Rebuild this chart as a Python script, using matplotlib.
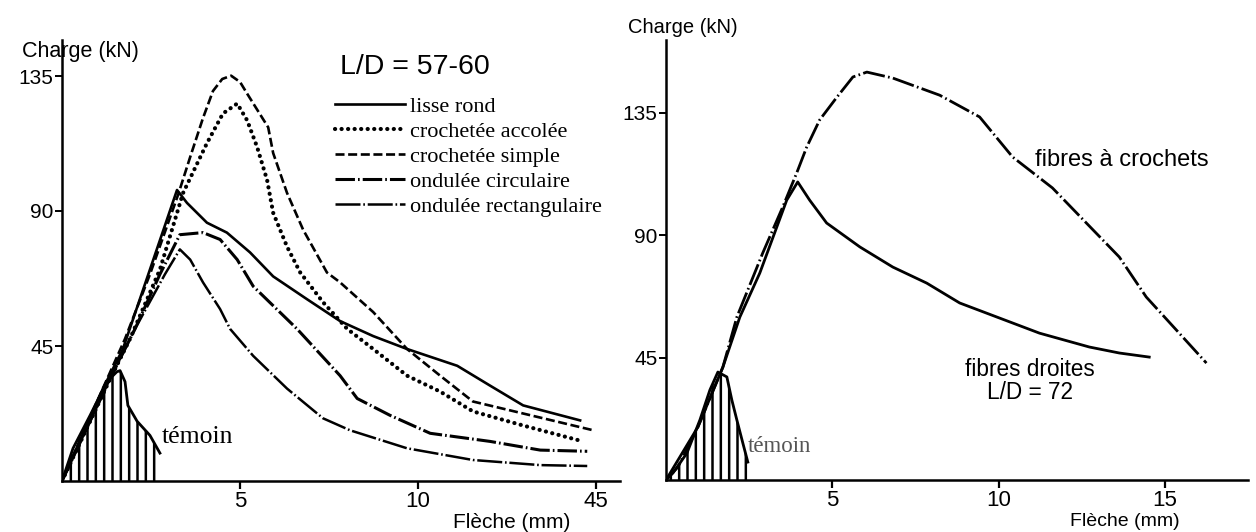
import numpy as np
import matplotlib
matplotlib.use("Agg")
import matplotlib.pyplot as plt

plt.rcParams['font.family'] = ['Liberation Sans', 'DejaVu Sans']
plt.rcParams['lines.scale_dashes'] = False
plt.rcParams['hatch.linewidth'] = 1.8

# ---------------- Left panel data (Flèche mm, Charge kN) ----------------
lisse_x = [0, 1.15, 1.71, 2.47, 3.23, 3.51, 4.07, 4.63, 5.28, 5.93, 6.88, 7.81, 8.74, 9.69, 11.10, 12.02, 12.95, 14.55]
lisse_y = [0, 30.8, 44.0, 70.5, 97.0, 92.7, 86.1, 82.8, 76.2, 68.2, 60.6, 53.3, 48.3, 44.0, 38.4, 31.8, 25.2, 20.2]

accolee_x = [0, 1.29, 1.91, 2.75, 3.40, 4.07, 4.52, 4.92, 5.20, 5.48, 5.76, 5.93, 6.32, 6.69, 7.33, 8.01, 8.74, 9.69, 10.62, 11.54, 12.95, 14.63]
accolee_y = [0, 32.5, 47.4, 70.5, 96.0, 112.6, 122.5, 125.8, 120.2, 111.3, 100.3, 89.4, 78.1, 69.5, 59.6, 50.7, 44.0, 35.1, 29.8, 23.2, 18.5, 13.2]

simple_x = [0, 1.21, 1.77, 2.47, 3.26, 3.60, 3.96, 4.24, 4.50, 4.75, 5.00, 5.20, 5.79, 5.93, 6.32, 6.77, 7.44, 7.81, 8.74, 9.69, 10.62, 11.54, 12.95, 14.92]
simple_y = [0, 32.5, 47.4, 68.9, 95.4, 108.0, 121.0, 130.0, 134.0, 135.1, 133.0, 129.1, 117.9, 109.3, 96.0, 83.8, 69.5, 66.2, 56.3, 44.0, 35.1, 26.5, 22.5, 16.9]

circ_x = [0, 1.35, 2.05, 2.75, 3.31, 3.96, 4.44, 4.92, 5.37, 6.60, 7.81, 8.29, 9.21, 10.34, 12.02, 13.43, 14.75]
circ_y = [0, 34.1, 50.7, 68.9, 82.1, 82.8, 80.5, 73.8, 64.9, 50.7, 35.1, 27.5, 21.9, 15.9, 13.2, 10.3, 9.9]

rect_x = [0, 1.35, 2.05, 2.89, 3.31, 3.60, 3.96, 4.44, 4.72, 5.37, 6.32, 7.33, 8.09, 9.69, 11.54, 13.43, 14.75]
rect_y = [0, 34.1, 50.7, 68.9, 77.2, 73.8, 66.2, 57.3, 50.7, 41.7, 30.8, 20.9, 16.9, 10.9, 7.0, 5.3, 5.0]

temoin1_x = [0, 0.31, 0.79, 1.26, 1.54, 1.63, 1.77, 1.85, 2.11, 2.47, 2.75]
temoin1_y = [0, 10.9, 21.9, 33.1, 36.4, 36.8, 33.1, 25.2, 19.9, 15.2, 9.3]

left_labels = ["lisse rond", "crochetée accolée", "crochetée simple",
               "ondulée circulaire", "ondulée rectangulaire"]
left_xticks = [5, 10, 15]
left_xticklabels = ["5", "10", "45"]
yticks = [45, 90, 135]

# ---------------- Right panel data ----------------
crochets_x = [0, 0.36, 0.96, 1.71, 2.13, 2.91, 3.51, 3.93, 4.23, 4.62, 5.14, 5.62, 6.04, 6.82, 8.23, 9.43, 10.42, 11.62, 12.64, 13.63, 14.44, 15.35, 16.25]
crochets_y = [0, 4.8, 19.5, 41.5, 59.9, 83.5, 100.4, 112.9, 122.4, 132.4, 140.8, 148.2, 150.0, 147.8, 141.5, 133.5, 118.8, 107.4, 94.5, 82.0, 67.3, 55.1, 43.0]

droites_x = [0, 0.96, 1.71, 2.22, 2.82, 3.63, 3.96, 4.32, 4.83, 5.83, 6.82, 7.84, 8.83, 11.23, 12.73, 13.63, 14.53]
droites_y = [0, 19.5, 41.5, 59.9, 76.1, 102.9, 109.6, 102.9, 94.5, 85.7, 78.3, 72.4, 65.1, 54.0, 48.9, 46.7, 45.2]

temoin2_x = [0, 0.21, 0.63, 1.02, 1.32, 1.56, 1.83, 1.98, 2.13, 2.31, 2.46]
temoin2_y = [0, 2.6, 9.9, 22.1, 33.1, 39.7, 37.9, 29.4, 22.1, 13.6, 6.6]

right_xticks = [5, 10, 15]

# ---------------- Figure ----------------
fig = plt.figure(figsize=(12.56, 5.32), dpi=100)
axL = fig.add_axes([62 / 1256, 51 / 532, 558 / 1256, 441 / 532])
axR = fig.add_axes([666 / 1256, 52 / 532, 582 / 1256, 440 / 532])

serif = ['Liberation Serif', 'DejaVu Serif']

def style_axes(ax, xmax, ymax, xt, xtl):
    ax.set_xlim(0, xmax)
    ax.set_ylim(0, ymax)
    for s in ['top', 'right']:
        ax.spines[s].set_visible(False)
    for s in ['left', 'bottom']:
        ax.spines[s].set_linewidth(1.8)
    ax.set_xticks(xt)
    ax.set_xticklabels(xtl)
    ax.set_yticks(yticks)
    ax.set_yticklabels([str(v) for v in yticks])
    ax.tick_params(axis='x', direction='out', length=6, width=1.6, labelsize=16, pad=1)
    ax.tick_params(axis='y', direction='out', length=5, width=1.4, labelsize=15, pad=1)

# Left panel
style_axes(axL, 15.67, 147, left_xticks, left_xticklabels)
l1, = axL.plot(lisse_x, lisse_y, lw=1.9, color='black')
l2, = axL.plot(accolee_x, accolee_y, lw=3.0, color='black', linestyle=(0, (0.1, 4.6)), dash_capstyle='round')
l3, = axL.plot(simple_x, simple_y, lw=1.9, color='black', linestyle=(0, (6.5, 2.6)))
l4, = axL.plot(circ_x, circ_y, lw=2.2, color='black', linestyle=(0, (14, 2.2, 1.2, 2.2)))
l5, = axL.plot(rect_x, rect_y, lw=1.8, color='black', linestyle=(0, (18, 2, 1.2, 2)))
axL.fill_between(temoin1_x, temoin1_y, 0, facecolor='none', edgecolor='black', hatch='||', linewidth=0)
axL.plot(temoin1_x, temoin1_y, lw=2.0, color='black')

leg = axL.legend([l1, l2, l3, l4, l5], left_labels, loc='upper left',
                 bbox_to_anchor=(0.489, 0.873), frameon=False,
                 prop={'family': serif, 'size': 16}, handlelength=3.15,
                 handletextpad=0.22, labelspacing=0.2, borderpad=0, borderaxespad=0)

fig.text(22 / 1256, 1 - 52 / 532, "Charge (kN)", fontsize=15.5, va='center', ha='left')
fig.text(415 / 1256, 1 - 67 / 532, "L/D = 57-60", fontsize=20.5, va='center', ha='center')
fig.text(512 / 1256, 1 - 522 / 532, "Flèche (mm)", fontsize=15, va='center', ha='center')
fig.text(162 / 1256, 1 - 437 / 532, "témoin", fontsize=18.5, va='center', ha='left', family=serif)

# Right panel
style_axes(axR, 17.5, 161.8, right_xticks, [str(v) for v in right_xticks])
axR.plot(crochets_x, crochets_y, lw=2.0, color='black', linestyle=(0, (16, 2.4, 1.2, 2.4)))
axR.plot(droites_x, droites_y, lw=2.0, color='black')
axR.fill_between(temoin2_x, temoin2_y, 0, facecolor='none', edgecolor='black', hatch='||', linewidth=0)
axR.plot(temoin2_x, temoin2_y, lw=2.0, color='black')

fig.text(628 / 1256, 1 - 28 / 532, "Charge (kN)", fontsize=14.5, va='center', ha='left')
fig.text(1125 / 1256, 1 - 522 / 532, "Flèche (mm)", fontsize=14, va='center', ha='center')
fig.text(1035 / 1256, 1 - 160 / 532, "fibres à crochets", fontsize=17, va='center', ha='left')
fig.text(1030 / 1256, 1 - 381 / 532, "fibres droites\nL/D = 72", fontsize=16.3, va='center', ha='center', linespacing=1.05)
fig.text(748 / 1256, 1 - 447 / 532, "témoin", fontsize=16.5, va='center', ha='left', family=serif, color='#555555')

fig.savefig("out.png", dpi=100)
